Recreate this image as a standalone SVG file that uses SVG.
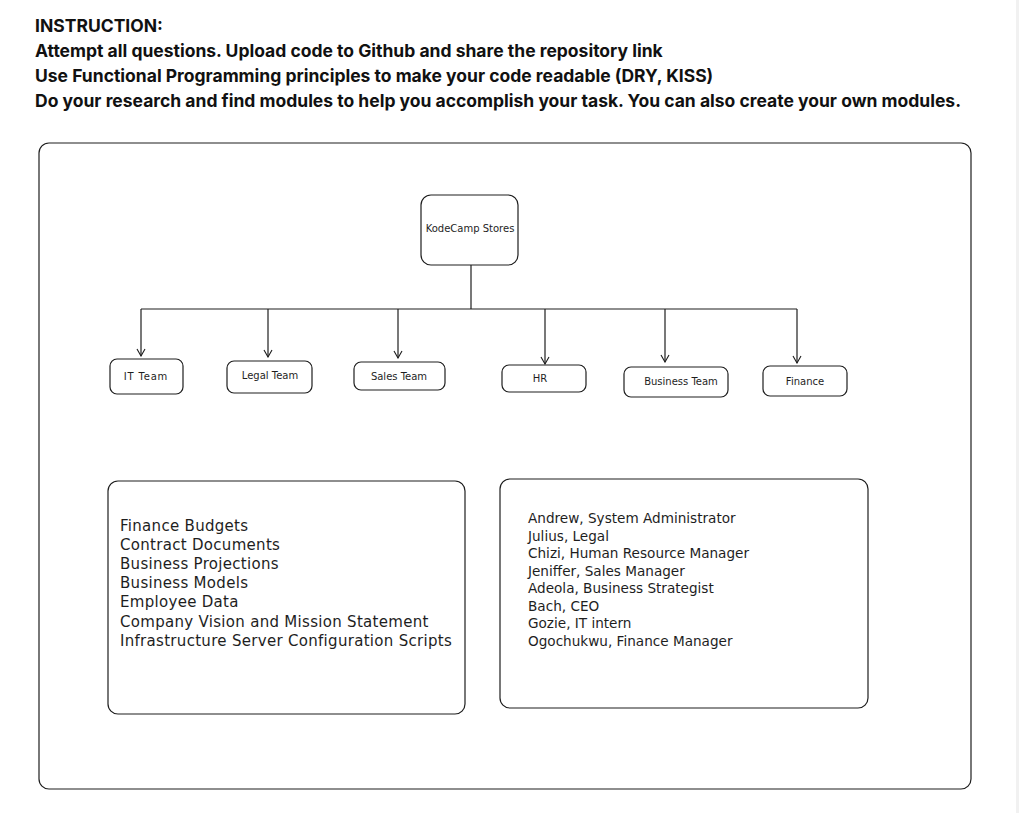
<svg xmlns="http://www.w3.org/2000/svg" width="1019" height="813" viewBox="0 0 1019 813">
<style>
.hdr{font-family:Inter,"Liberation Sans",sans-serif;font-weight:700;font-size:17.5px;fill:#111}
.box{fill:#fff;stroke:#1e1e1e;stroke-width:1.2}
.lbl{font-family:"DejaVu Sans","Liberation Sans",sans-serif;font-size:10px;fill:#1e1e1e;text-anchor:middle}
.lst{font-family:"DejaVu Sans","Liberation Sans",sans-serif;font-size:15px;letter-spacing:0.3px;fill:#1e1e1e}
.lst2{font-family:"DejaVu Sans","Liberation Sans",sans-serif;font-size:13.6px;fill:#1e1e1e}
.con{fill:none;stroke:#1e1e1e;stroke-width:1.2}
</style>
<defs>
<marker id="ah" markerWidth="10" markerHeight="10" refX="9" refY="5" orient="auto" markerUnits="userSpaceOnUse" viewBox="0 0 10 10">
<path d="M2,1 L9,5 L2,9" fill="none" stroke="#1e1e1e" stroke-width="1.1"/>
</marker>
</defs>
<rect width="1019" height="813" fill="#fff"/>
<rect x="1016" y="0" width="3" height="813" fill="#f1f1f1"/>
<g id="header">
<text class="hdr" x="35" y="32">INSTRUCTION:</text>
<text class="hdr" x="35" y="57">Attempt all questions. Upload code to Github and share the repository link</text>
<text class="hdr" x="35" y="82">Use Functional Programming principles to make your code readable (DRY, KISS)</text>
<text class="hdr" x="35" y="107">Do your research and find modules to help you accomplish your task. You can also create your own modules.</text>
</g>
<g id="frame"><rect class="box" x="39" y="143" width="932" height="646" rx="10"/></g>
<g id="connectors">
<path class="con" d="M471,265 V309"/>
<path class="con" d="M141,309 H797"/>
<path class="con" d="M141,309 V356" marker-end="url(#ah)"/>
<path class="con" d="M268,309 V357" marker-end="url(#ah)"/>
<path class="con" d="M398,309 V358" marker-end="url(#ah)"/>
<path class="con" d="M545,309 V364" marker-end="url(#ah)"/>
<path class="con" d="M665,309 V362" marker-end="url(#ah)"/>
<path class="con" d="M797,309 V363" marker-end="url(#ah)"/>
</g>
<g id="kodecamp"><rect class="box" x="421" y="195" width="97" height="70" rx="10"/><text class="lbl" x="470" y="232">KodeCamp Stores</text></g>
<g id="it-team"><rect class="box" x="110" y="359" width="73" height="35" rx="7"/><text class="lbl" x="146" y="380" letter-spacing="0.8">IT Team</text></g>
<g id="legal-team"><rect class="box" x="227" y="361" width="85" height="32" rx="7"/><text class="lbl" x="270" y="379">Legal Team</text></g>
<g id="sales-team"><rect class="box" x="354" y="362" width="91" height="28" rx="7"/><text class="lbl" x="399" y="380">Sales Team</text></g>
<g id="hr"><rect class="box" x="502" y="365" width="84" height="27" rx="7"/><text class="lbl" x="540" y="382">HR</text></g>
<g id="business-team"><rect class="box" x="624" y="367" width="104" height="30" rx="7"/><text class="lbl" x="681" y="385">Business Team</text></g>
<g id="finance"><rect class="box" x="763" y="366" width="84" height="30" rx="7"/><text class="lbl" x="805" y="385">Finance</text></g>
<g id="assets">
<rect class="box" x="108" y="481" width="357" height="233" rx="10"/>
<text class="lst" x="120" y="531">Finance Budgets</text>
<text class="lst" x="120" y="550">Contract Documents</text>
<text class="lst" x="120" y="569">Business Projections</text>
<text class="lst" x="120" y="588">Business Models</text>
<text class="lst" x="120" y="607">Employee Data</text>
<text class="lst" x="120" y="627">Company Vision and Mission Statement</text>
<text class="lst" x="120" y="646">Infrastructure Server Configuration Scripts</text>
</g>
<g id="staff">
<rect class="box" x="500" y="479" width="368" height="229" rx="10"/>
<text class="lst2" x="528" y="523">Andrew, System Administrator</text>
<text class="lst2" x="528" y="541">Julius, Legal</text>
<text class="lst2" x="528" y="558">Chizi, Human Resource Manager</text>
<text class="lst2" x="528" y="576">Jeniffer, Sales Manager</text>
<text class="lst2" x="528" y="593">Adeola, Business Strategist</text>
<text class="lst2" x="528" y="611">Bach, CEO</text>
<text class="lst2" x="528" y="628">Gozie, IT intern</text>
<text class="lst2" x="528" y="646">Ogochukwu, Finance Manager</text>
</g>
</svg>
